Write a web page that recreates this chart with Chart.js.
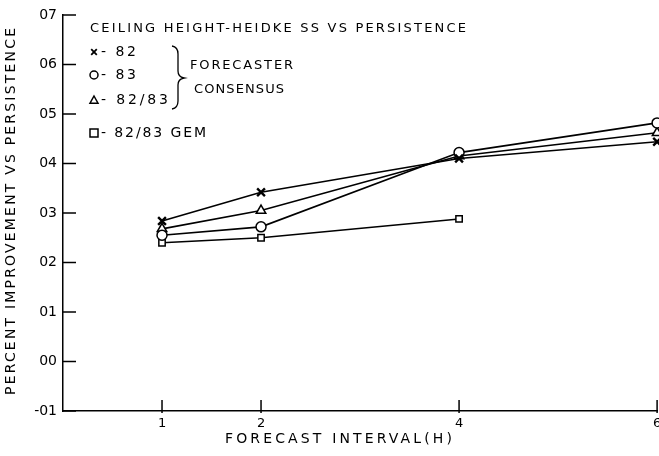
<!DOCTYPE html>
<html>
<head>
<meta charset="utf-8">
<script src="https://cdn.jsdelivr.net/npm/chart.js@4.4.1/dist/chart.umd.min.js"></script>
<style>
html,body{margin:0;padding:0;background:#fff;overflow:hidden;}
#wrap{width:659px;height:456px;position:relative;overflow:hidden;}
canvas{display:block;}
</style>
</head>
<body>
<div id="wrap"><canvas id="c" width="665" height="456"></canvas></div>
<script>
// ---- data ----
const xValues = [1, 2, 4, 6];
const xTickLabels = ['1', '2', '4', '6'];
const series82 = [0.284, 0.342, 0.410, 0.444];
const series83 = [0.255, 0.272, 0.422, 0.482];
const series8283 = [0.268, 0.305, 0.415, 0.462];
const seriesGemX = [1, 2, 4];
const seriesGem = [0.240, 0.250, 0.288];
const yTicks = [-0.1, 0, 0.1, 0.2, 0.3, 0.4, 0.5, 0.6, 0.7];
const yTickLabels = ['-01', '00', '01', '02', '03', '04', '05', '06', '07'];
const chartTitle = 'CEILING HEIGHT-HEIDKE SS VS PERSISTENCE';
const xTitle = 'FORECAST INTERVAL(H)';
const yTitle = 'PERCENT IMPROVEMENT VS PERSISTENCE';
const legendItems = [
  {style: 'crossRot', text: '- 82'},
  {style: 'circle', text: '- 83'},
  {style: 'triangle', text: '- 82/83'},
  {style: 'rect', text: '- 82/83 GEM'}
];
const braceLines = ['FORECASTER', 'CONSENSUS'];

const FONT = '"DejaVu Sans", sans-serif';
function pts(xs, ys) { return ys.map((v, i) => ({x: xs[i], y: v})); }
function ds(label, data, style, radius, bw) {
  return {
    label, data,
    borderColor: '#000', backgroundColor: '#fff',
    borderWidth: 1.6, pointStyle: style, pointRadius: radius,
    pointBorderWidth: bw, pointBorderColor: '#000', pointBackgroundColor: '#fff',
    tension: 0, clip: false
  };
}

function fitText(ctx, text, x, y, width) {
  ctx.letterSpacing = '0px';
  const w = ctx.measureText(text).width;
  const sp = text.length > 1 ? (width - w) / (text.length - 1) : 0;
  ctx.letterSpacing = sp + 'px';
  ctx.textAlign = 'left';
  ctx.fillText(text, x, y);
  ctx.letterSpacing = '0px';
}

function drawMarker(ctx, style, x, y, r) {
  ctx.save();
  ctx.strokeStyle = '#000'; ctx.fillStyle = '#fff'; ctx.lineWidth = 1.5;
  ctx.beginPath();
  if (style === 'circle') { ctx.arc(x, y, r, 0, Math.PI * 2); ctx.fill(); ctx.stroke(); }
  else if (style === 'rect') { ctx.rect(x - r, y - r, 2 * r, 2 * r); ctx.fill(); ctx.stroke(); }
  else if (style === 'triangle') {
    ctx.moveTo(x, y - r); ctx.lineTo(x + r, y + r * 0.8); ctx.lineTo(x - r, y + r * 0.8); ctx.closePath(); ctx.fill(); ctx.stroke();
  } else {
    ctx.lineWidth = 1.8;
    ctx.moveTo(x - r * 0.7, y - r * 0.7); ctx.lineTo(x + r * 0.7, y + r * 0.7);
    ctx.moveTo(x + r * 0.7, y - r * 0.7); ctx.lineTo(x - r * 0.7, y + r * 0.7); ctx.stroke();
  }
  ctx.restore();
}

const deco = {
  id: 'deco',
  afterDraw(chart) {
    const ctx = chart.ctx;
    const xs = chart.scales.x, ys = chart.scales.y;
    const area = chart.chartArea;
    ctx.save();
    ctx.strokeStyle = '#000'; ctx.lineWidth = 1.5;
    // inward y ticks
    yTicks.forEach(v => {
      const py = ys.getPixelForValue(v);
      ctx.beginPath(); ctx.moveTo(area.left, py); ctx.lineTo(area.left + 13, py); ctx.stroke();
    });
    // inward x ticks
    xValues.forEach(v => {
      const px = xs.getPixelForValue(v);
      ctx.beginPath(); ctx.moveTo(px, area.bottom + 2); ctx.lineTo(px, area.bottom - 11); ctx.stroke();
    });
    ctx.fillStyle = '#000';
    ctx.textBaseline = 'middle';
    // chart title
    ctx.font = '13px ' + FONT;
    fitText(ctx, chartTitle, 90, 29, 376);
    // legend
    const rows = [52, 75, 100, 133];
    const widths = [35, 35, 67, 105];
    ctx.font = '14px ' + FONT;
    legendItems.forEach((it, i) => {
      drawMarker(ctx, it.style, 94, rows[i], 4);
      fitText(ctx, it.text, 101, rows[i], widths[i]);
    });
    // brace
    ctx.lineWidth = 1.3;
    ctx.beginPath();
    ctx.moveTo(172, 46);
    ctx.quadraticCurveTo(178, 47, 178, 54);
    ctx.lineTo(178, 71);
    ctx.quadraticCurveTo(178, 77, 184, 78);
    ctx.quadraticCurveTo(178, 79, 178, 85);
    ctx.lineTo(178, 101);
    ctx.quadraticCurveTo(178, 108, 172, 109);
    ctx.stroke();
    ctx.font = '13px ' + FONT;
    fitText(ctx, braceLines[0], 190, 66, 103);
    fitText(ctx, braceLines[1], 194, 90, 90);
    // axis titles
    ctx.font = '14px ' + FONT;
    fitText(ctx, xTitle, 225, 439, 227);
    ctx.save();
    ctx.translate(11, 395);
    ctx.rotate(-Math.PI / 2);
    ctx.font = '14px ' + FONT;
    fitText(ctx, yTitle, 0, 0, 367);
    ctx.restore();
    ctx.restore();
  }
};

new Chart(document.getElementById('c'), {
  type: 'line',
  data: {
    datasets: [
      ds('82', pts(xValues, series82), 'crossRot', 5.5, 2.4),
      ds('83', pts(xValues, series83), 'circle', 5, 1.5),
      ds('82/83', pts(xValues, series8283), 'triangle', 5.5, 1.5),
      ds('82/83 GEM', pts(seriesGemX, seriesGem), 'rect', 4.5, 1.5)
    ]
  },
  options: {
    responsive: false,
    animation: false,
    layout: {padding: {top: 15, right: 0, left: 0, bottom: 0}},
    plugins: {legend: {display: false}, tooltip: {enabled: false}},
    scales: {
      x: {
        type: 'linear', min: 0, max: 6,
        afterBuildTicks: s => { s.ticks = xValues.map(v => ({value: v})); },
        afterFit: s => { s.height = 45; s.paddingLeft = 0; s.paddingRight = 0; },
        ticks: {
          autoSkip: false, maxRotation: 0, padding: 5, color: '#000',
          font: {family: FONT, size: 13},
          callback: (v) => xTickLabels[xValues.indexOf(v)]
        },
        grid: {display: true, drawOnChartArea: false, drawTicks: false},
        border: {display: true, color: '#000', width: 1.5}
      },
      y: {
        type: 'linear', min: -0.1, max: 0.7,
        afterBuildTicks: s => { s.ticks = yTicks.map(v => ({value: v})); },
        afterFit: s => { s.width = 63; s.paddingTop = 0; s.paddingBottom = 0; },
        ticks: {
          autoSkip: false, padding: 6, color: '#000',
          font: {family: FONT, size: 14},
          callback: (v) => yTickLabels[yTicks.findIndex(t => Math.abs(t - v) < 1e-6)]
        },
        grid: {display: true, drawOnChartArea: false, drawTicks: false},
        border: {display: true, color: '#000', width: 1.5}
      }
    }
  },
  plugins: [deco]
});
</script>
</body>
</html>
